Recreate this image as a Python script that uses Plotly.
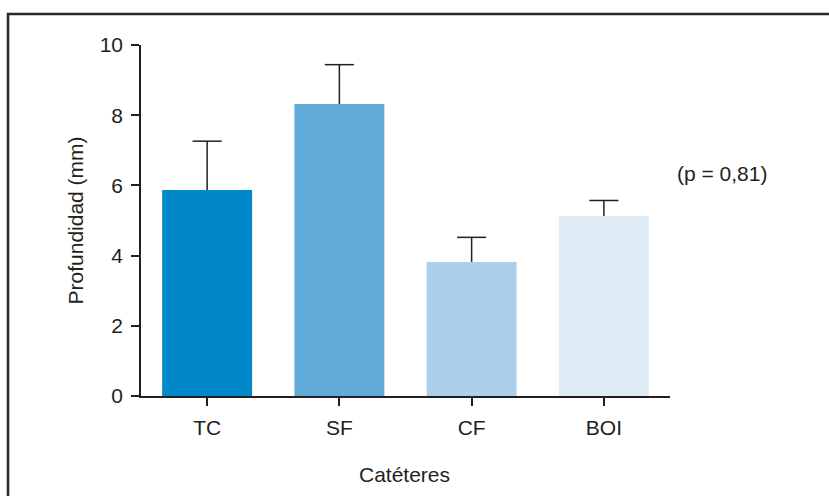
import plotly.graph_objects as go

categories = ["TC", "SF", "CF", "BOI"]
means = [5.87, 8.32, 3.82, 5.13]
errors_up = [1.39, 1.12, 0.70, 0.44]
bar_colors = ["#0088c8", "#5faad9", "#aecfe9", "#dfebf5"]
y_ticks = [0, 2, 4, 6, 8, 10]
p_text = "(p = 0,81)"

FONT = "Liberation Sans, Arial, sans-serif"
INK = "#231f20"
CAP_HALF = 0.11
FS = 21

positions = list(range(len(categories)))

fig = go.Figure()
fig.add_trace(go.Bar(
    x=positions, y=means, width=0.68,
    marker=dict(color=bar_colors, line=dict(width=0)),
    hoverinfo="y",
))

# Upper-only error whiskers with a cap at the top
wx, wy = [], []
for i, (m, e) in enumerate(zip(means, errors_up)):
    top = m + e
    wx += [i, i, None, i - CAP_HALF, i + CAP_HALF, None]
    wy += [m, top, None, top, top, None]
fig.add_trace(go.Scatter(x=wx, y=wy, mode="lines",
                         line=dict(color=INK, width=1.5), hoverinfo="skip"))

fig.update_layout(
    width=829, height=496,
    margin=dict(l=141, r=159, t=45, b=100),
    paper_bgcolor="white", plot_bgcolor="white",
    showlegend=False,
    font=dict(family=FONT, size=FS, color=INK),
    xaxis=dict(range=[-0.5, 3.5], tickvals=positions, ticktext=categories,
               showline=True, linecolor=INK, linewidth=1.5,
               ticks="outside", ticklen=8, tickcolor=INK, tickwidth=1.5,
               ticklabelstandoff=4,
               showgrid=False, zeroline=False, tickfont=dict(size=FS)),
    yaxis=dict(range=[0, 10], tickvals=y_ticks, showline=True, linecolor=INK,
               linewidth=1.5, ticks="outside", ticklen=8, tickcolor=INK,
               tickwidth=1.5, ticklabelstandoff=4,
               showgrid=False, zeroline=False,
               tickfont=dict(size=FS)),
    annotations=[
        dict(text="Profundidad (mm)", textangle=-90, xref="paper", yref="paper",
             x=-0.1229, y=0.5, xanchor="center", yanchor="middle",
             showarrow=False, font=dict(size=FS)),
        dict(text="Catéteres", xref="paper", yref="paper", x=0.499, y=-0.225,
             xanchor="center", yanchor="middle", showarrow=False,
             font=dict(size=FS)),
        dict(text=p_text, xref="paper", yref="paper", x=1.098, y=0.633,
             xanchor="center", yanchor="middle", showarrow=False,
             font=dict(size=FS)),
    ],
    shapes=[
        dict(type="path", xref="paper", yref="paper",
             path="M -0.2514,-0.35 L -0.2514,1.0883 L 1.35,1.0883",
             line=dict(color="#2a2a2a", width=2.6)),
    ],
)

fig.write_html("out.html")
